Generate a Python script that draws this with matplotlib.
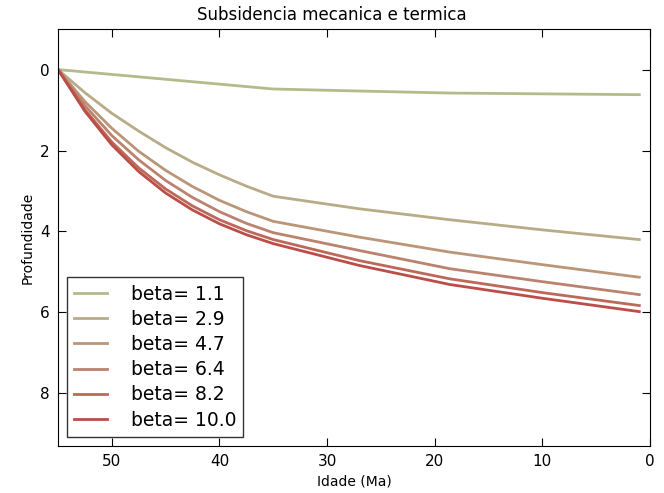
import matplotlib
matplotlib.use("Agg")
import matplotlib.pyplot as plt

# idades (Ma) e profundidades
idade = [55, 52.5, 50, 47.5, 45, 42.5, 40, 37.5, 35, 27, 18.6, 10, 1]
betas = [1.1, 2.9, 4.7, 6.4, 8.2, 10.0]

prof_b11 = [0, 0.06, 0.12, 0.18, 0.24, 0.30, 0.36, 0.42, 0.48, 0.53, 0.58, 0.60, 0.62]
prof_b29 = [0, 0.57, 1.08, 1.52, 1.93, 2.29, 2.60, 2.88, 3.13, 3.44, 3.71, 3.96, 4.20]
prof_b47 = [0, 0.79, 1.45, 2.02, 2.49, 2.89, 3.23, 3.51, 3.75, 4.14, 4.51, 4.82, 5.13]
prof_b64 = [0, 0.89, 1.63, 2.23, 2.74, 3.16, 3.51, 3.80, 4.03, 4.47, 4.92, 5.24, 5.56]
prof_b82 = [0, 0.99, 1.79, 2.43, 2.95, 3.37, 3.71, 3.98, 4.20, 4.72, 5.17, 5.51, 5.83]
prof_b10 = [0, 1.03, 1.86, 2.52, 3.05, 3.47, 3.81, 4.08, 4.30, 4.84, 5.31, 5.65, 5.98]

cores = ["#b3bb8c", "#b8ab87", "#bb9577", "#bb8270", "#bd6859", "#bb4e48"]

fig = plt.figure(figsize=(6.64, 4.93), dpi=100)
ax = fig.add_axes([0.0873, 0.0953, 0.8917, 0.8457])

for b, p, c in zip(betas, [prof_b11, prof_b29, prof_b47, prof_b64, prof_b82, prof_b10], cores):
    ax.plot(idade, p, color=c, lw=2, label=f"beta= {b}")

ax.set_xlim(55, 0)
ax.set_ylim(9.3, -1)
ax.set_xticks([50, 40, 30, 20, 10, 0])
ax.set_yticks([0, 2, 4, 6, 8])
ax.tick_params(direction="in", top=True, right=True, length=6, labelsize=11, pad=6)
ax.set_xlabel("Idade (Ma)", fontsize=10)
ax.set_ylabel("Profundidade", fontsize=10)
fig.suptitle("Subsidencia mecanica e termica", fontsize=12, y=0.970, va="center")

leg = ax.legend(loc="lower left", fontsize=13.5, fancybox=False, borderaxespad=0.5,
                handlelength=1.75, handletextpad=1.25, labelspacing=0.33, borderpad=0.38)
leg.get_frame().set_edgecolor("black")

fig.savefig("out.png", dpi=100)
